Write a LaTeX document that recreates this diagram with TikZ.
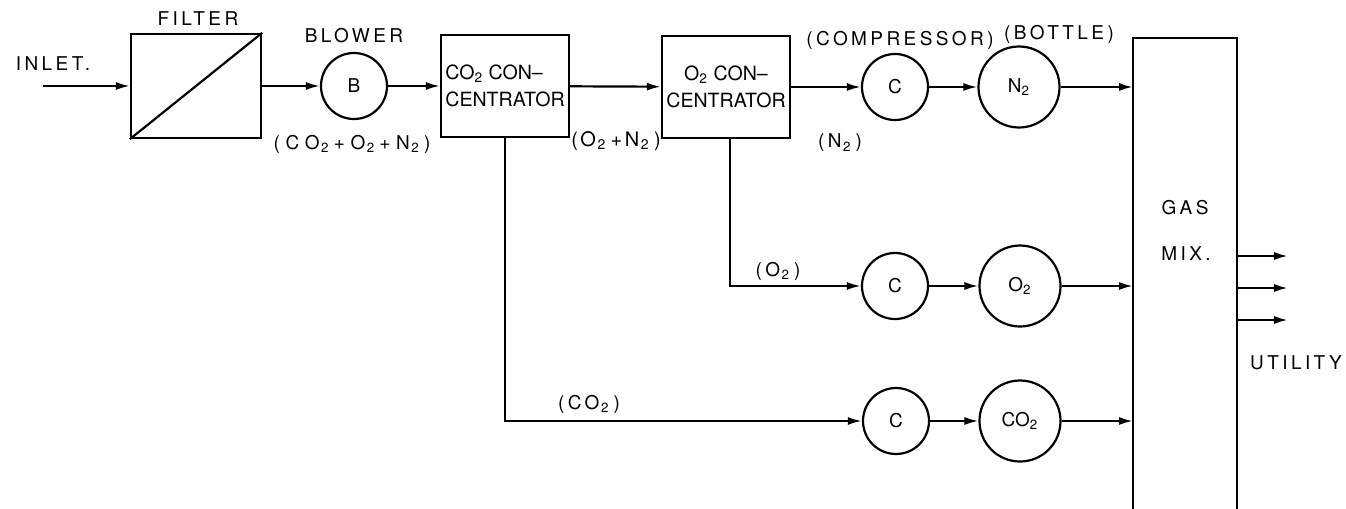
\documentclass[tikz,border=0pt]{standalone}
\usepackage{fontspec}
\setmainfont{TeX Gyre Heros}
\newfontfamily\spaced[LetterSpace=18]{TeX Gyre Heros}
\newfontfamily\wider[LetterSpace=30]{TeX Gyre Heros}
\newfontfamily\tight[LetterSpace=12]{TeX Gyre Heros}
\newcommand\subs[1]{\hspace{0.08em}\textsubscript{#1}\hspace{0.22em}}
\usepackage{tikz}
\usetikzlibrary{arrows.meta,positioning,calc}

\begin{document}
\begin{tikzpicture}[x=0.5pt,y=-0.5pt,>={Latex[length=7pt,width=4pt]},line width=1.1pt]
\tikzstyle{box}=[draw, align=center, minimum width=64pt, minimum height=51pt, inner sep=1pt, font=\fontsize{9.8}{13.5}\selectfont]
\tikzstyle{unit}=[draw, circle, inner sep=0pt, minimum size=33pt, font=\fontsize{9.5}{11}\selectfont]
\tikzstyle{bottle}=[unit, minimum size=40.5pt]
\tikzstyle{lbl}=[inner sep=0pt, font=\spaced\fontsize{9.5}{11}\selectfont]
\useasboundingbox (0,0) rectangle (1346,509);
% main line
\coordinate (in) at (43,86);
\node[box, minimum width=65pt, minimum height=52pt] (filter) at (196,86) {};
\node[unit] (blower) at (354,86) {B};
\node[box, align=left] (co2c) at (505,86) {CO\textsubscript{2} CON–\\CENTRATOR};
\node[box] (o2c) at (726,87) {O\textsubscript{2} CON–\\CENTRATOR};
\node[unit] (cmpN) at (895,87) {C};
\node[bottle] (botN) at (1019,87) {N\textsubscript{2}};
\node[unit] (cmpO) at (895,286) {C};
\node[bottle] (botO) at (1020,286) {O\textsubscript{2}};
\node[unit] (cmpC) at (896,421) {C};
\node[bottle] (botC) at (1020,421) {CO\textsubscript{2}};
\node[minimum width=52pt, minimum height=235.5pt, inner sep=0pt, outer sep=0pt] (mix) at (1185,273.5) {};
\coordinate (u1) at (1288,256);
\coordinate (u2) at (1288,288);
\coordinate (u3) at (1288,320);
% labels
\node[lbl] (inlet) at (53,64) {INLET.};
\node[lbl] (filterlbl) at (198,19) {FILTER};
\node[lbl] (blowerlbl) at (354,36) {BLOWER};
\node[lbl, font=\wider\fontsize{9.5}{11}\selectfont] (mainflow) at (352,144) {(CO\subs{2}+O\subs{2}+N\subs{2})};
\node[lbl, font=\tight\fontsize{10}{11}\selectfont] (o2n2flow) at (616,141) {(O\subs{2}+N\subs{2})};
\node[lbl] (n2flow) at (840,143) {(N\subs{2})};
\node[lbl] (complbl) at (900,40) {(COMPRESSOR)};
\node[lbl] (bottlelbl) at (1059,34) {(BOTTLE)};
\node[lbl] (o2flow) at (778,271) {(O\subs{2})};
\node[lbl] (co2flow) at (589,404) {(CO\subs{2})};
\node[lbl] (gas) at (1185,208) {GAS};
\node[lbl] (mixlbl) at (1186,254) {MIX.};
\node[lbl] (utility) at (1296,363) {UTILITY};
% connections
\draw[->] (in) -- (filter);
\draw (filter.south west) -- (filter.north east);
\draw[->] (filter) -- (blower);
\draw[->] (blower) -- (co2c);
\draw[->] (co2c) -- (o2c);
\draw[->] (o2c) -- (cmpN);
\draw[->] (cmpN) -- (botN);
\draw[->] (botN) -- (botN -| mix.west);
\draw[->] ([xshift=2pt]o2c.south) |- (cmpO);
\draw[->] (cmpO) -- (botO);
\draw[->] (botO) -- (botO -| mix.west);
\draw[->] (co2c.south) |- (cmpC);
\draw[->] (cmpC) -- (botC);
\draw[->] (botC) -- (botC -| mix.west);
\draw (mix.south west) -- (mix.north west) -- (mix.north east) -- (mix.south east);
\foreach \u in {u1,u2,u3} \draw[->] (\u -| mix.east) -- (\u);
\end{tikzpicture}
\end{document}
